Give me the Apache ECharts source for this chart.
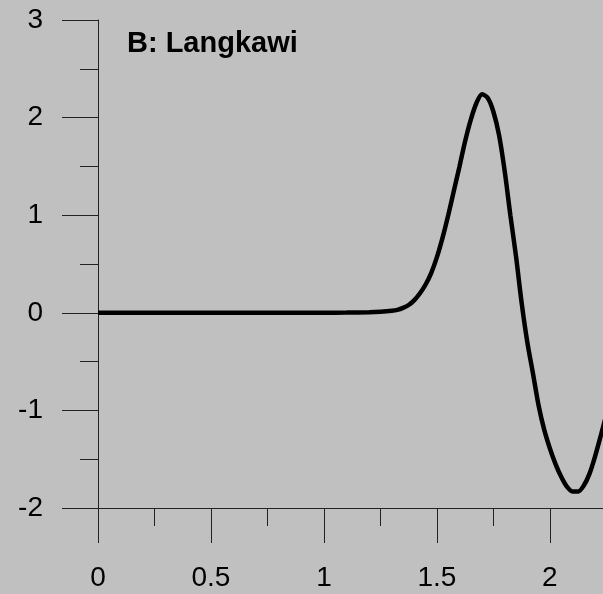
<!DOCTYPE html>
<html>
<head>
<meta charset="utf-8">
<script src="https://cdn.jsdelivr.net/npm/echarts@6/dist/echarts.min.js"></script>
<style>
html,body{margin:0;padding:0;background:#C0C0C0;}
#chart{width:603px;height:594px;}
</style>
</head>
<body>
<div id="chart"></div>
<script>
const titleText = "B: Langkawi";
const xValues = [0, 0.25, 0.5, 0.75, 1.0, 1.1, 1.2, 1.25, 1.3, 1.325, 1.35, 1.375, 1.4, 1.425, 1.45, 1.475, 1.5, 1.525, 1.55, 1.575, 1.6, 1.625, 1.65, 1.675, 1.7, 1.725, 1.75, 1.775, 1.8, 1.825, 1.85, 1.875, 1.9, 1.925, 1.95, 1.975, 2.0, 2.025, 2.05, 2.075, 2.1, 2.125, 2.15, 2.175, 2.2, 2.225, 2.25, 2.275];
const yValues = [0, 0, 0, 0, 0.001, 0.002, 0.005, 0.01, 0.02, 0.03, 0.05, 0.08, 0.13, 0.20, 0.29, 0.41, 0.57, 0.77, 1.00, 1.25, 1.50, 1.76, 1.98, 2.15, 2.24, 2.20, 2.06, 1.82, 1.45, 1.00, 0.58, 0.10, -0.30, -0.62, -0.95, -1.20, -1.39, -1.55, -1.68, -1.78, -1.83, -1.83, -1.77, -1.65, -1.47, -1.26, -1.04, -0.80];

const data = xValues.map((x, i) => [x, yValues[i]]);
const chart = echarts.init(document.getElementById('chart'));
const axisCol = '#222';
chart.setOption({
  backgroundColor: '#C0C0C0',
  animation: false,
  title: {
    text: titleText, left: 122, top: 24,
    textStyle: {fontFamily: 'Liberation Sans, Arial', fontWeight: 'bold', fontSize: 29, color: '#000'}
  },
  grid: {left: 98, right: 0, top: 20, bottom: 86},
  xAxis: {
    type: 'value', min: 0, max: 2.235, interval: 0.5,
    axisLine: {show: true, onZero: false, lineStyle: {color: axisCol, width: 1}},
    axisTick: {show: true, inside: false, length: 35, lineStyle: {color: axisCol, width: 1}},
    minorTick: {show: true, splitNumber: 2, length: 18, lineStyle: {color: axisCol, width: 1}},
    splitLine: {show: false},
    axisLabel: {margin: 56, fontFamily: 'Liberation Sans, Arial', fontSize: 28, color: '#000', showMaxLabel: false}
  },
  yAxis: {
    type: 'value', min: -2, max: 3, interval: 1,
    axisLine: {show: true, onZero: false, lineStyle: {color: axisCol, width: 1}},
    axisTick: {show: true, inside: false, length: 36, lineStyle: {color: axisCol, width: 1}},
    minorTick: {show: true, splitNumber: 2, length: 18, lineStyle: {color: axisCol, width: 1}},
    splitLine: {show: false},
    axisLabel: {margin: 55, fontFamily: 'Liberation Sans, Arial', fontSize: 28, color: '#000'}
  },
  series: [{
    type: 'line', data: data, smooth: 0.3, showSymbol: false, clip: true,
    lineStyle: {color: '#000', width: 4.5}
  }]
});
</script>
</body>
</html>
